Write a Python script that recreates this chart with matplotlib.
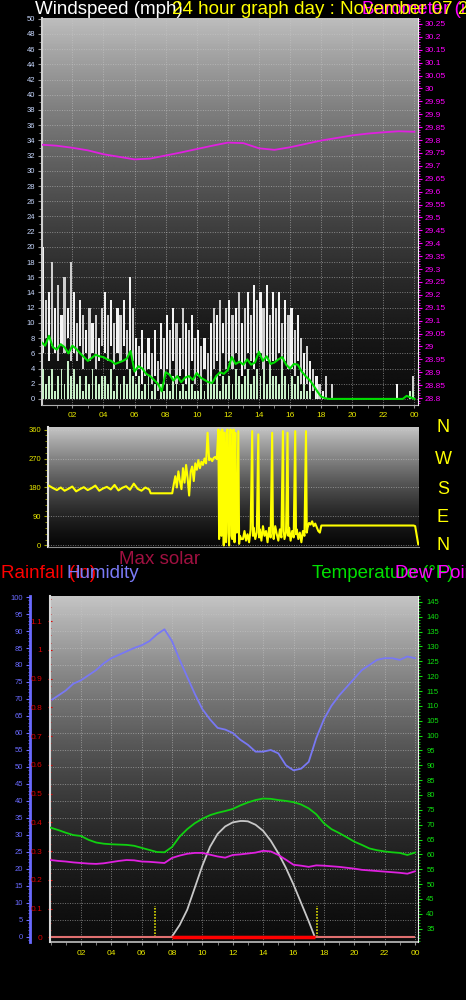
import numpy as np
import matplotlib
matplotlib.use("Agg")
import matplotlib.pyplot as plt
from matplotlib.ticker import MultipleLocator, FixedLocator

plt.rcParams['font.family'] = ['Liberation Sans', 'DejaVu Sans']

W, H = 466, 1000

# ---- wind speed (mph), one bar every 12 minutes ----
gust = [20, 13, 14, 18, 12, 15, 11, 16, 12, 18, 14, 10, 13, 11, 9,
        12, 10, 11, 8, 12, 14, 11, 13, 10, 12, 11, 13, 9, 16, 12,
        8, 7, 9, 6, 8, 6, 9, 5, 10, 8, 11, 9, 12, 10, 8,
        12, 10, 9, 11, 8, 9, 7, 8, 6, 10, 12, 11, 13, 10, 12,
        13, 11, 12, 14, 10, 12, 14, 11, 15, 13, 14, 12, 15, 11, 14,
        12, 14, 10, 13, 11, 12, 9, 11, 8, 6, 7, 5, 4, 3, 2,
        1, 3, 0, 2, 0, 0, 0, 0, 0, 0, 0, 0, 0, 0, 0,
        0, 0, 0, 0, 0, 0, 0, 0, 0, 2, 0, 0, 0, 1, 3]
lull = [6, 8, 5, 7, 6, 5, 7, 6, 8, 5, 6, 5, 7, 4, 6,
        5, 6, 4, 5, 7, 6, 5, 7, 4, 6, 5, 7, 4, 6, 5,
        3, 4, 2, 3, 4, 2, 3, 1, 4, 2, 4, 3, 5, 2, 3,
        4, 2, 3, 5, 2, 3, 2, 4, 1, 3, 4, 5, 3, 6, 4,
        5, 4, 6, 5, 3, 4, 6, 5, 4, 6, 6, 4, 5, 3, 5,
        5, 6, 3, 5, 4, 4, 3, 5, 2, 2, 2, 1, 1, 0, 0,
        0, 0, 0, 0, 0, 0, 0, 0, 0, 0, 0, 0, 0, 0, 0,
        0, 0, 0, 0, 0, 0, 0, 0, 0, 0, 0, 0, 0, 0, 0]
avg_wind = [4, 2, 3, 4, 1, 3, 4, 2, 5, 3, 4, 2, 3, 1, 3,
            2, 4, 3, 2, 3, 3, 2, 4, 1, 3, 2, 3, 2, 4, 3,
            2, 3, 1, 2, 3, 1, 2, 0, 2, 1, 2, 1, 3, 2, 1,
            2, 1, 3, 2, 1, 1, 2, 1, 2, 3, 2, 3, 1, 3, 2,
            3, 2, 4, 3, 2, 3, 4, 2, 3, 4, 3, 4, 2, 4, 3,
            3, 2, 4, 3, 2, 3, 2, 3, 1, 2, 1, 1, 0, 1, 0,
            0, 0, 0, 0, 0, 0, 0, 0, 0, 0, 0, 0, 0, 0, 0,
            0, 0, 0, 0, 0, 0, 0, 0, 0, 0, 0, 0, 0, 1, 1]
# 10 minute average, every 15 minutes
wind10 = [7.5, 7.0, 8.3, 6.8, 6.5, 7.2, 6.8, 6.0, 7.0, 6.6, 6.0, 5.5,
          5.0, 5.4, 5.8, 5.6, 5.5, 5.2, 5.0, 4.6, 4.8, 5.0, 5.3, 6.3,
          3.6, 4.3, 4.0, 3.3, 3.0, 2.5, 2.0, 1.0, 3.5, 3.2, 2.4, 3.0,
          2.2, 2.8, 3.0, 2.5, 3.4, 2.8, 2.5, 2.2, 2.1, 3.0, 3.5, 3.3,
          3.8, 5.5, 4.6, 4.9, 4.5, 5.2, 4.5, 4.8, 6.2, 5.0, 5.6, 4.6,
          4.8, 5.2, 5.5, 4.5, 4.0, 4.6, 4.5, 3.6, 3.0, 2.5, 1.8, 1.0,
          0.3, 0.1, 0, 0, 0, 0, 0, 0, 0, 0, 0, 0,
          0, 0, 0, 0, 0, 0, 0, 0, 0, 0, 0.4, 0.2, 0]
# barometer (in), hourly
pressure = [29.782, 29.778, 29.770, 29.760, 29.745, 29.735, 29.725, 29.728,
            29.740, 29.752, 29.765, 29.778, 29.790, 29.788, 29.768, 29.762,
            29.772, 29.785, 29.798, 29.808, 29.818, 29.825, 29.830, 29.834,
            29.832]

# ---- wind direction (deg) ----
dir_hours = [0, 0.25, 0.5, 0.75, 1, 1.25, 1.5, 1.75, 2, 2.25, 2.5, 2.75, 3,
             3.25, 3.5, 3.75, 4, 4.25, 4.5, 4.75, 5, 5.25, 5.5, 5.75, 6, 6.25, 6.5,
             6.6, 8.0,
             8.1, 8.2, 8.3, 8.4, 8.5, 8.6, 8.7, 8.8, 8.9, 9.0, 9.1, 9.2, 9.3, 9.4,
             9.5, 9.6, 9.7, 9.8, 9.9, 10.0, 10.1, 10.2, 10.3, 10.4, 10.5, 10.6,
             10.7, 10.8, 10.9,
             11.0, 11.05, 11.1, 11.15, 11.2, 11.25, 11.3, 11.35, 11.4, 11.5, 11.55,
             11.6, 11.65, 11.7, 11.75, 11.8, 11.85, 11.9, 11.95, 12.0, 12.05, 12.1,
             12.15, 12.2, 12.3, 12.35, 12.4, 12.5,
             12.6, 12.7, 12.8, 12.9, 13.0, 13.1, 13.2, 13.25, 13.3, 13.4, 13.5,
             13.6, 13.65, 13.7, 13.8, 13.9, 14.0, 14.1, 14.2, 14.3, 14.4, 14.5,
             14.55, 14.6, 14.7, 14.8, 14.9, 15.0, 15.1, 15.2, 15.25, 15.3, 15.4,
             15.5, 15.55, 15.6, 15.7, 15.8, 15.9, 16.0, 16.05, 16.1, 16.2, 16.3,
             16.4, 16.5, 16.6, 16.7, 16.75, 16.8, 16.9, 17.0, 17.1, 17.2, 17.3,
             17.5, 17.6, 17.7, 23.7, 23.8, 24.0]
dir_deg = [185, 178, 172, 180, 170, 176, 183, 168, 175, 181, 172, 178, 186,
           170, 177, 182, 174, 188, 171, 179, 184, 173, 192, 176, 170, 180, 174,
           162, 162,
           190, 215, 180, 230, 200, 175, 240, 195, 250, 210, 155, 230, 245, 200,
           255, 235, 265, 240, 260, 250, 270, 255, 350, 265, 270, 262,
           272, 275, 268,
           360, 20, 355, 350, 30, 360, 340, 0, 350, 10, 355,
           360, 40, 0, 345, 360, 30, 20, 355, 360, 10, 350,
           60, 40, 355, 5, 30, 20,
           20, 45, 15, 35, 10, 50, 355, 30, 55, 20, 40,
           345, 25, 50, 15, 60, 30, 45, 10, 55, 25, 350,
           40, 20, 60, 35, 15, 50, 25, 355, 45, 20, 40,
           350, 30, 55, 15, 45, 25, 355, 35, 50, 20, 40,
           10, 45, 30, 355, 40, 55, 70, 65, 75, 60, 68,
           45, 40, 62, 62, 60, 4]

# ---- humidity (%), temperature and dew point (F), every 30 minutes ----
humidity = [69.5, 71, 72.5, 74.5, 75.5, 77, 78.5, 80.5, 82, 83, 84, 85,
            85.8, 87, 89, 90.5, 87, 81.5, 76.5, 71.5, 67, 64, 61.5, 61,
            60, 58, 56.5, 54.5, 54.5, 55, 54, 50.5, 49, 49.5, 51.5, 58.5,
            64, 68, 71, 73.5, 76, 78.5, 80, 81.5, 82, 82, 81.5, 82.5, 82]
temperature = [69.0, 68.2, 67.3, 66.5, 66.2, 64.9, 64.0, 63.6, 63.4, 63.3,
               63.2, 62.9, 62.2, 61.5, 60.8, 60.7, 62.5, 66.0, 68.5, 70.5,
               72.0, 73.2, 74.0, 74.6, 75.3, 76.5, 77.5, 78.3, 78.8, 78.7,
               78.3, 78.0, 77.6, 76.8, 75.5, 73.5, 70.5, 68.5, 67.2, 65.8,
               64.3, 63.2, 62.0, 61.4, 61.0, 60.7, 60.5, 59.8, 60.6]
dew_point = [58.1, 57.8, 57.6, 57.3, 57.1, 56.9, 56.8, 57.0, 57.4, 57.8,
             58.1, 58.0, 57.6, 57.5, 57.3, 57.1, 58.8, 59.6, 60.2, 60.5,
             60.5, 59.9, 59.3, 58.9, 59.8, 60.0, 60.3, 60.6, 61.2, 61.0,
             59.8, 58.2, 56.5, 56.2, 55.8, 56.3, 56.2, 56.0, 55.8, 55.5,
             55.2, 54.8, 54.6, 54.4, 54.2, 54.0, 53.8, 53.5, 54.3]
# max solar curve (drawn on the humidity scale)
solar_hours = [7.98, 8.5, 9.0, 9.5, 10.0, 10.5, 11.0, 11.5, 12.0, 12.5, 12.7,
               13.0, 13.5, 14.0, 14.5, 15.0, 15.5, 16.0, 16.5, 17.0, 17.4]
solar = [0, 3.5, 8, 14.5, 21, 26.5, 30.3, 32.5, 33.7, 34.1, 34.1,
         34, 33, 31.2, 28.3, 24.6, 20.3, 15.4, 10, 4.6, 0]
sun_marks = [6.88, 17.53]
rain_hours = [0, 24]
rain = [0, 0]
day_hours = [7.98, 17.4]
day_rain = [0, 0]

hour_labels = ['02', '04', '06', '08', '10', '12', '14', '16', '18', '20', '22', '00']

TICK_FS = 5.5
GRID = dict(color='#c8c8c8', ls=(0, (1, 1.5)), lw=0.7, alpha=0.55)


def box(x0, y0, x1, y1):
    return [x0 / W, 1 - y1 / H, (x1 - x0) / W, (y1 - y0) / H]


def gradient(ax, top, bottom, power=1.6):
    t = np.linspace(0, 1, 256)[:, None]
    g = bottom + (top - bottom) * t ** power
    x0, x1 = ax.get_xlim()
    y0, y1 = ax.get_ylim()
    ax.imshow(g, extent=[x0, x1, y0, y1], origin='lower', aspect='auto',
              cmap='gray', vmin=0, vmax=1, zorder=0, interpolation='bilinear')


def hour_axis(ax, pad):
    ax.set_xticks(range(2, 25, 2))
    ax.set_xticklabels(hour_labels)
    ax.xaxis.set_minor_locator(MultipleLocator(1))
    ax.tick_params(axis='x', which='both', colors='#909090', labelcolor='#e8e800',
                   labelsize=TICK_FS + 0.5, length=2, pad=pad)


fig = plt.figure(figsize=(W / 100, H / 100), dpi=100)
fig.patch.set_facecolor('black')

# ================= windspeed / barometer =================
ax1 = fig.add_axes(box(42, 18, 418, 405))
ax1.set_xlim(0.05, 24.23)
ax1.set_ylim(-0.8, 50.1)
gradient(ax1, 0.74, 0.05)
tw = np.arange(len(gust)) * 0.2 + 0.1
white = ['#f4f4f4', '#cfcfcf'] * (len(gust) // 2)
ax1.bar(tw, np.subtract(gust, lull), bottom=lull, width=0.14, color=white,
        linewidth=0, zorder=2)
ax1.bar(tw, avg_wind, width=0.12, color='#c8f0c8', linewidth=0, zorder=3)
ax1.plot(np.arange(len(wind10)) * 0.25, wind10, color='#00dd00', lw=1.5, zorder=4)
ax1.set_yticks(range(0, 51, 2))
ax1.yaxis.set_minor_locator(MultipleLocator(1))
ax1.tick_params(axis='y', which='both', colors='#909090', labelcolor='#c8d8ff',
                labelsize=TICK_FS, length=3, pad=2)
ax1.tick_params(axis='y', which='minor', length=2)
hour_axis(ax1, 3)
ax1.grid(True, **GRID)
for s in ['top', 'right']:
    ax1.spines[s].set_visible(False)
ax1.spines['left'].set_color('#d0d0d0')
ax1.spines['left'].set_linewidth(1.5)
ax1.spines['bottom'].set_color('#b0b0b0')

ax1p = ax1.twinx()
ax1p.set_ylim(28.773, 30.273)
ax1p.plot(np.arange(len(pressure)), pressure, color='#e020e0', lw=1.3)
ax1p.yaxis.set_major_locator(FixedLocator(np.round(np.arange(28.8, 30.26, 0.05), 2)))
ax1p.yaxis.set_major_formatter(lambda v, p: '{:g}'.format(round(v, 2)))
ax1p.yaxis.set_minor_locator(MultipleLocator(0.01))
ax1p.tick_params(axis='y', which='both', colors='#ff00ff', labelsize=TICK_FS + 0.5,
                 length=3, pad=2)
ax1p.tick_params(axis='y', which='minor', length=1.5)
for s in ['top', 'left', 'bottom']:
    ax1p.spines[s].set_visible(False)
ax1p.spines['right'].set_color('#f0f0f0')

# ================= wind direction =================
ax2 = fig.add_axes(box(48, 427, 419, 547))
ax2.set_xlim(-0.08, 24.05)
ax2.set_ylim(-4.7, 367.8)
gradient(ax2, 0.78, 0.03, 1.4)
ax2.plot(dir_hours, dir_deg, color='#ffff00', lw=1.5, zorder=3)
ax2.set_yticks([0, 90, 180, 270, 360])
ax2.yaxis.set_minor_locator(MultipleLocator(18))
ax2.tick_params(axis='y', which='both', colors='#a0a000', labelcolor='#e8e800',
                labelsize=TICK_FS, length=3, pad=2)
ax2.tick_params(axis='y', which='minor', length=2)
ax2.set_xticks([])
ax2.grid(True, axis='y', **GRID)
for s in ['top', 'right']:
    ax2.spines[s].set_visible(False)
ax2.spines['left'].set_color('#e0e0e0')
ax2.spines['left'].set_linewidth(1.5)
ax2.spines['bottom'].set_color('#909090')

for letter, y in zip(['N', 'W', 'S', 'E', 'N'], [428, 460, 489, 518, 545]):
    fig.text(443 / W, 1 - y / H, letter, color='#ffff00', fontsize=13,
             ha='center', va='center')

# ================= humidity / rain / temperature =================
ax3 = fig.add_axes(box(50, 596, 418, 942))
ax3.set_xlim(-0.04, 24.2)
ax3.set_ylim(-1.5, 100.3)
gradient(ax3, 0.77, 0.05)
ax3.plot(solar_hours, solar, color='#c8c8c8', lw=1.3, zorder=3)
ax3.vlines(sun_marks, 0, 9, colors='#ffff00', linestyles=(0, (1, 1)), lw=1.1, zorder=3)
ax3.plot(np.arange(len(humidity)) * 0.5, humidity, color='#7878f4', lw=1.3, zorder=4)
ax3.set_yticks(range(0, 101, 5))
ax3.yaxis.set_minor_locator(MultipleLocator(1))
ax3.tick_params(axis='y', which='both', colors='#6a6aff', labelsize=TICK_FS,
                length=3, pad=2)
ax3.tick_params(axis='y', which='minor', length=1.8)
hour_axis(ax3, 4)
ax3.grid(True, **GRID)
for s in ['top', 'right']:
    ax3.spines[s].set_visible(False)
ax3.spines['left'].set_position(('outward', 14.5))
ax3.spines['left'].set_color('#6a6aff')
ax3.spines['left'].set_linewidth(2)
ax3.spines['bottom'].set_color('#c0c0c0')
ax3.spines['bottom'].set_linewidth(1.2)

axr = ax3.twinx()
axr.set_ylim(-0.016, 1.187)
axr.plot(rain_hours, rain, color='#e07070', lw=1.5, solid_capstyle='butt')
axr.plot(day_hours, day_rain, color='#ff0000', lw=2.5, solid_capstyle='butt')
axr.yaxis.tick_left()
axr.set_yticks(np.round(np.arange(0, 1.15, 0.1), 1))
axr.yaxis.set_major_formatter(lambda v, p: '{:g}'.format(round(v, 1)))
axr.yaxis.set_minor_locator(MultipleLocator(0.025))
axr.tick_params(axis='y', which='both', colors='#dd0000', labelsize=TICK_FS + 0.5,
                length=3, pad=4, direction='inout')
axr.tick_params(axis='y', which='minor', length=2)
for s in ['top', 'right', 'bottom']:
    axr.spines[s].set_visible(False)
axr.spines['left'].set_color('#d8d8d8')
axr.spines['left'].set_linewidth(1.5)

axt = ax3.twinx()
axt.set_ylim(30.5, 147)
axt.plot(np.arange(len(temperature)) * 0.5, temperature, color='#10d010', lw=1.3)
axt.plot(np.arange(len(dew_point)) * 0.5, dew_point, color='#e020e0', lw=1.3)
axt.set_yticks(range(35, 146, 5))
axt.yaxis.set_minor_locator(MultipleLocator(1))
axt.tick_params(axis='y', which='both', colors='#10e010', labelsize=TICK_FS,
                length=3, pad=3)
axt.tick_params(axis='y', which='minor', length=1.5)
for s in ['top', 'left', 'bottom']:
    axt.spines[s].set_visible(False)
axt.spines['right'].set_color('#f0f0f0')

# ================= headings =================
def head(x, y, s, color, z=-2):
    fig.text(x / W, 1 - y / H, s, color=color, fontsize=13.5, ha='left',
             va='center', zorder=z)

head(35, 10, 'Windspeed (mph)', 'white')
head(362, 10, 'Barometer (in)', '#ff00ff')
head(172, 10, '24 hour graph day : November 07 2', '#ffff00', z=-1)
head(119, 559, 'Max solar', '#a01040')
head(1, 573, 'Rainfall (in)', '#ff0000')
head(66, 573, 'Humidity', '#7b7bf7', z=-1)
head(312, 573, 'Temperature (°F)', '#00e000')
head(395, 573, 'Dew Point (°F)', '#ff00ff', z=-1)

fig.savefig('out.png', dpi=100, facecolor='black')
